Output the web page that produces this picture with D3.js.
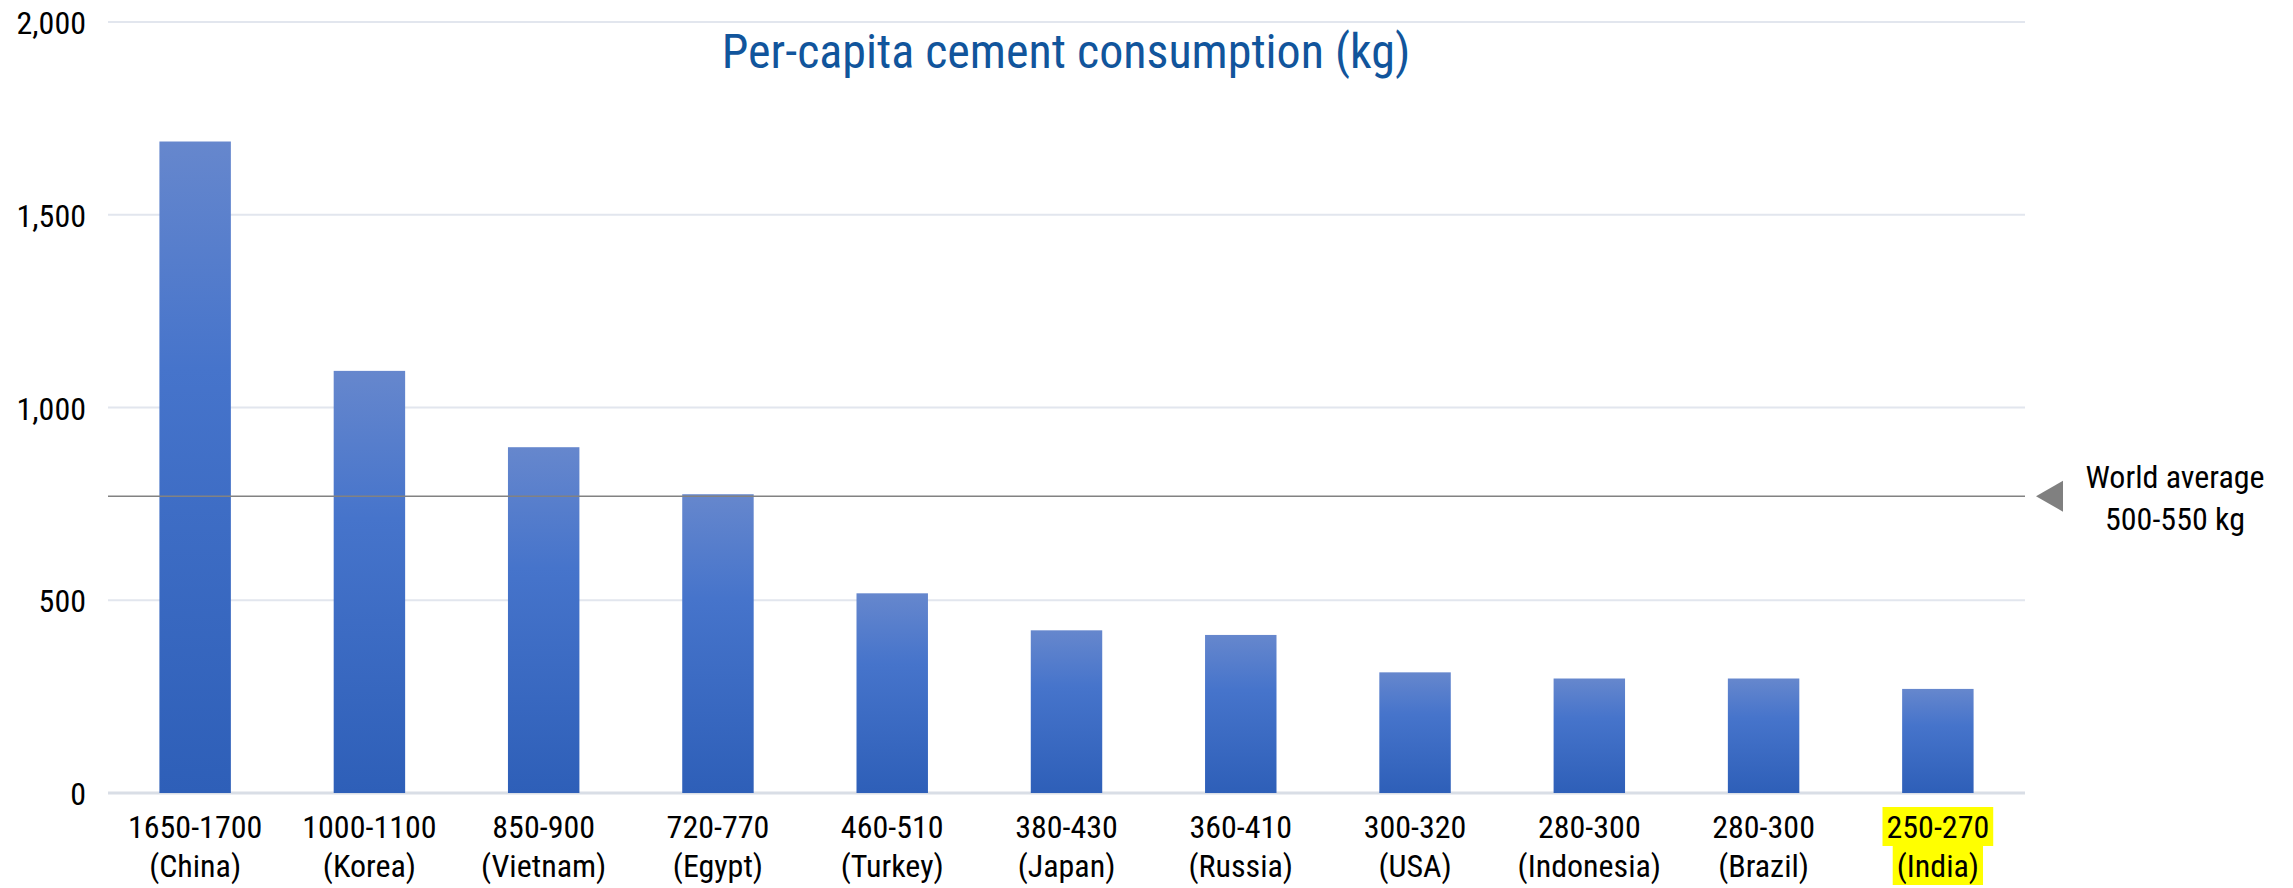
<!DOCTYPE html>
<html>
<head>
<meta charset="utf-8">
<script src="https://cdn.jsdelivr.net/npm/d3@7"></script>
<style>
  html, body { margin: 0; padding: 0; background: #fff; }
  svg text { font-family: "Liberation Sans Narrow", "Arial Narrow", "Roboto Condensed", "Liberation Sans", sans-serif; }
</style>
</head>
<body>
<div id="chart"></div>
<script>
// data
const ranges = ["1650-1700", "1000-1100", "850-900", "720-770", "460-510", "380-430", "360-410", "300-320", "280-300", "280-300", "250-270"];
const countries = ["China", "Korea", "Vietnam", "Egypt", "Turkey", "Japan", "Russia", "USA", "Indonesia", "Brazil", "India"];
const values = [1690, 1095, 897, 775, 518, 422, 410, 313, 297, 297, 270];
const yTicks = [0, 500, 1000, 1500, 2000];
const worldAvg = 770;
const worldLabel = ["World average", "500-550 kg"];
const highlighted = "India";

const width = 2293, height = 888;
const margin = { top: 22, right: 268, bottom: 95, left: 108 };

const svg = d3.select("#chart").append("svg")
    .attr("width", width)
    .attr("height", height);

const defs = svg.append("defs");
const grad = defs.append("linearGradient")
    .attr("id", "barGrad")
    .attr("x1", 0).attr("y1", 0).attr("x2", 0).attr("y2", 1);
grad.append("stop").attr("offset", "0%").attr("stop-color", "#6687cd");
grad.append("stop").attr("offset", "35%").attr("stop-color", "#4674cb");
grad.append("stop").attr("offset", "100%").attr("stop-color", "#2e5fb8");

const x = d3.scaleBand()
    .domain(countries)
    .range([margin.left, width - margin.right])
    .paddingInner(0.59)
    .paddingOuter(0.295);

const y = d3.scaleLinear()
    .domain([0, 2000])
    .range([height - margin.bottom, margin.top]);

// gridlines
const grid = svg.append("g").attr("class", "grid");
grid.selectAll("line")
    .data(yTicks)
    .enter().append("line")
    .attr("x1", margin.left)
    .attr("x2", width - margin.right)
    .attr("y1", d => y(d))
    .attr("y2", d => y(d))
    .attr("stroke", d => d === 0 ? "#d9dee6" : "#e2e6ee")
    .attr("stroke-width", d => d === 0 ? 3 : 2);

// y axis labels
const yAxis = svg.append("g")
    .attr("transform", "translate(" + (margin.left - 22) + ",0)")
    .call(d3.axisLeft(y).tickValues(yTicks).tickFormat(d3.format(",")).tickSize(0));
yAxis.select(".domain").remove();
yAxis.selectAll("text")
    .attr("font-size", 32)
    .attr("fill", "#000")
    .attr("dy", "0.36em")
    .attr("x", 0);

// bars
svg.append("g").attr("class", "bars")
    .selectAll("rect")
    .data(values)
    .enter().append("rect")
    .attr("x", (d, i) => x(countries[i]))
    .attr("width", x.bandwidth())
    .attr("y", d => y(d))
    .attr("height", d => y(0) - y(d))
    .attr("fill", "url(#barGrad)");

// world average line
svg.append("line")
    .attr("x1", margin.left)
    .attr("x2", width - margin.right)
    .attr("y1", y(worldAvg))
    .attr("y2", y(worldAvg))
    .attr("stroke", "#828282")
    .attr("stroke-width", 1.5);

const triX = width - margin.right + 11;
const triY = y(worldAvg);
svg.append("path")
    .attr("d", d3.line()([[triX, triY], [triX + 27, triY - 15.5], [triX + 27, triY + 15.5]]) + "Z")
    .attr("fill", "#808080");

svg.append("g").selectAll("text")
    .data(worldLabel)
    .enter().append("text")
    .attr("x", 2175)
    .attr("y", (d, i) => triY - 8 + i * 42)
    .attr("text-anchor", "middle")
    .attr("font-size", 32)
    .attr("fill", "#000")
    .text(d => d);

// category labels (two lines)
const cat = svg.append("g").attr("class", "cats");
countries.forEach((c, i) => {
    const cx = x(c) + x.bandwidth() / 2;
    const lines = [ranges[i], "(" + c + ")"];
    lines.forEach((t, j) => {
        const txt = cat.append("text")
            .attr("x", cx)
            .attr("y", y(0) + 45 + j * 39)
            .attr("text-anchor", "middle")
            .attr("font-size", 32)
            .attr("fill", "#000")
            .text(t);
        if (c === highlighted) {
            const bb = txt.node().getBBox();
            cat.insert("rect", function() { return txt.node(); })
                .attr("x", bb.x - 4)
                .attr("y", bb.y - 1)
                .attr("width", bb.width + 8)
                .attr("height", bb.height + 1)
                .attr("fill", "#ffff00");
        }
    });
});

// title
svg.append("text")
    .attr("x", 1066)
    .attr("y", 68)
    .attr("text-anchor", "middle")
    .attr("font-size", 48)
    .attr("fill", "#11559c")
    .text("Per-capita cement consumption (kg)");
</script>
</body>
</html>
